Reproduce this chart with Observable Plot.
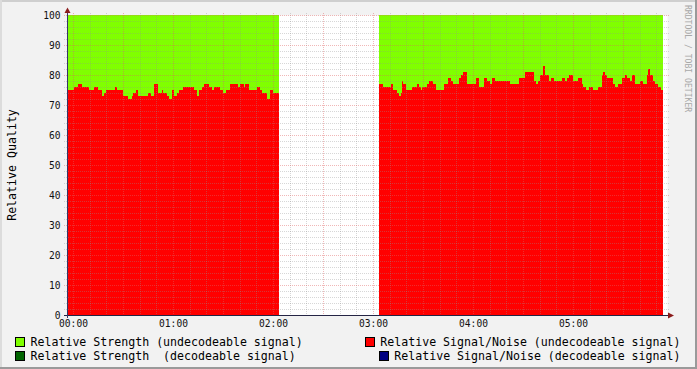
<!DOCTYPE html>
<html><head><meta charset="utf-8">
<script src="https://cdn.jsdelivr.net/npm/d3@7"></script>
<script src="https://cdn.jsdelivr.net/npm/@observablehq/plot@0.6"></script>
<style>
html,body{margin:0;padding:0;background:#f2f2f2}
#wrap{position:relative;width:697px;height:369px;background:#f2f2f2;overflow:hidden;font-family:"DejaVu Sans Mono",monospace;color:#000}
#wrap svg{position:absolute;left:0;top:0}
.lg{position:absolute;white-space:pre;font-size:11.6px;line-height:14px;height:14px}
.bx{position:absolute;width:8px;height:8px;border:1px solid #000}
.edge{position:absolute}
</style></head><body><div id="wrap"></div>
<script>
// minutes after 00:00 at which each step starts
const seg1Times = [-3.6,-2.8,0.6,3.2,5.2,9.8,12.8,15.2,17.2,18.6,19.8,25.2,26.6,30.2,33.2,35.2,36.2,37.6,39.2,45.2,46.6,48.6,50.8,53.2,54.2,56.2,57.6,59.6,60.6,62.2,63.6,66.2,72.6,74.2,75.6,77.2,78.6,81.8,83.2,84.8,88.2,90.2,91.8,94.2,99.2,100.4,102.4,103.4,105.4,110.4,112.4,113.4,116.4,118.4,119.8];
const seg1Values = [76,75,76,77,76,75,76,75,73,74,75,76,75,73,72,73,74,75,73,74,73,77,74,75,74,73,72,75,73,74,75,76,75,73,75,76,77,76,75,76,75,74,75,77,76,77,76,77,75,76,75,74,72,75,74];
const seg1End = 123.6;
const seg2Times = [183.6,186.2,190.6,192.2,194.6,195.6,196.6,197.6,198.2,199.6,203.6,206.2,207.6,208.6,209.6,212.6,213.6,216.2,217.6,222.6,225,226.6,228,231.6,233,234.2,236.6,241.8,243.8,246.4,248.4,250.4,251.4,253.4,262.4,267.4,271.4,276.4,277.8,279,280.4,281.8,283.4,285.4,286.8,288.4,293.4,295.4,296.4,297.8,300.2,303.2,305.2,306.2,307.8,309.8,312.2,315.2,317.2,318.2,319.2,320.2,324.2,325.2,327.2,329.2,331.2,332.6,334.2,335.2,337.2,340.2,342.2,344.6,345.2,346.2,347.8,349.2,351.2,352.6];
const seg2Values = [77,76,77,75,74,73,74,78,77,75,76,77,76,75,76,77,78,77,75,77,79,78,77,79,80,81,77,79,76,79,78,77,79,78,77,79,81,78,77,78,80,83,80,78,79,78,79,78,79,80,78,79,77,76,75,76,75,76,80,81,80,79,77,76,77,79,80,79,78,80,77,78,77,80,82,80,78,77,76,75];
const seg2End = 354;
const timeDomain = [-3.6, 356.4];
const hourTicks = [0,60,120,180,240,300];
const hourLabels = ["00:00","01:00","02:00","03:00","04:00","05:00"];
const yTicks = [0,10,20,30,40,50,60,70,80,90,100];
const yLabel = "Relative Quality";
const sideText = "RRDTOOL / TOBI OETIKER";
const legendLabels = ["Relative Strength (undecodeable signal)","Relative Signal/Noise (undecodeable signal)","Relative Strength  (decodeable signal)","Relative Signal/Noise (decodeable signal)"];
const legendColors = ["#80ff00","#ff0000","#006400","#000080"];
const strengthColor = "#80ff00";
const snColor = "#ff0000";

function rows(times, values, end, seg) {
  const r = times.map((t, i) => ({t, v: values[i], seg}));
  r.push({t: end, v: values[values.length - 1], seg});
  return r;
}
const data = rows(seg1Times, seg1Values, seg1End, 1).concat(rows(seg2Times, seg2Values, seg2End, 2));

const minorY = d3.range(0, 101, 2).filter(d => d % 10 !== 0);
const majorY = yTicks;
const minorX = d3.range(0, 357, 10).filter(d => d % 30 !== 0);
const majorX = d3.range(0, 357, 30);

const plot = Plot.plot({
  width: 697, height: 369,
  marginLeft: 67, marginRight: 30, marginTop: 15, marginBottom: 54,
  style: {background: "transparent", fontFamily: "DejaVu Sans Mono", fontSize: "9.6px", color: "#000", overflow: "visible"},
  x: {domain: timeDomain, axis: null},
  y: {domain: [0, 100], axis: null},
  marks: [
    Plot.frame({fill: "#fff", stroke: null}),
    Plot.areaY(data, {x: "t", y1: 100, y2: "v", z: "seg", curve: "step-after", fill: strengthColor, shapeRendering: "crispEdges"}),
    Plot.areaY(data, {x: "t", y1: 0, y2: "v", z: "seg", curve: "step-after", fill: snColor, shapeRendering: "crispEdges"}),
    Plot.ruleY(minorY, {stroke: "#909090", strokeOpacity: 0.36, strokeDasharray: "1,1", insetLeft: -3, insetRight: -2, shapeRendering: "crispEdges"}),
    Plot.ruleX(minorX, {stroke: "#909090", strokeOpacity: 0.36, strokeDasharray: "1,1", insetTop: -2, insetBottom: -2, shapeRendering: "crispEdges"}),
    Plot.ruleY(majorY, {stroke: "#e06060", strokeOpacity: 0.45, strokeDasharray: "1,1", insetLeft: -3, insetRight: -2, shapeRendering: "crispEdges"}),
    Plot.ruleX(majorX, {stroke: "#e06060", strokeOpacity: 0.45, strokeDasharray: "1,1", insetTop: -2, insetBottom: -2, shapeRendering: "crispEdges"}),
    Plot.axisY({ticks: yTicks, tickSize: 0, tickPadding: 7, label: null, fill: "#111"}),
    Plot.axisX({ticks: hourTicks, tickFormat: d => hourLabels[hourTicks.indexOf(d)], tickSize: 0, tickPadding: 5, label: null, fill: "#111"})
  ]
});

const wrap = document.getElementById("wrap");
wrap.appendChild(plot);

const X = plot.scale("x"), Y = plot.scale("y");
const svg = d3.select(plot);
const x0 = X.apply(timeDomain[0]), x1 = X.apply(timeDomain[1]);
const y0 = Y.apply(0), y1 = Y.apply(100);
svg.append("line").attr("x1", x0 - 3).attr("x2", x1 + 2).attr("y1", y0 + 0.5).attr("y2", y0 + 0.5).attr("stroke", "#252545").attr("stroke-width", 1);
svg.append("line").attr("x1", x0 + 0.5).attr("x2", x0 + 0.5).attr("y1", y0 + 3).attr("y2", y1 - 2).attr("stroke", "#353565").attr("stroke-width", 1);
svg.append("path").attr("d", `M${x0 - 2.5},${y1 - 2}L${x0 + 3.5},${y1 - 2}L${x0 + 0.5},${y1 - 7.5}Z`).attr("fill", "#8b1c1c");
svg.append("path").attr("d", `M${x1 + 1},${y0 - 2.5}L${x1 + 1},${y0 + 3.5}L${x1 + 7},${y0 + 0.5}Z`).attr("fill", "#8b1c1c");
svg.append("text").attr("transform", `translate(15.5,${(y0 + y1) / 2}) rotate(-90)`).attr("text-anchor", "middle")
  .attr("font-family", "DejaVu Sans Mono").attr("font-size", "11.6px").attr("fill", "#000").text(yLabel);
svg.append("text").attr("transform", `translate(685,5) rotate(90)`).attr("text-anchor", "start").attr("dy", "-0.05em")
  .attr("font-family", "DejaVu Sans Mono").attr("font-size", "8.1px").attr("fill", "#a8a8a8").text(sideText);

// legend
const pos = [
  {bx: 15, tx: 30.5, cy: 341.5},
  {bx: 365, tx: 380.3, cy: 341.5},
  {bx: 15, tx: 30.5, cy: 355.5},
  {bx: 379, tx: 394.3, cy: 355.5}
];
legendLabels.forEach((lab, i) => {
  const p = pos[i];
  const b = document.createElement("div");
  b.className = "bx";
  b.style.left = p.bx + "px"; b.style.top = (p.cy - 5) + "px"; b.style.background = legendColors[i];
  wrap.appendChild(b);
  const t = document.createElement("div");
  t.className = "lg";
  t.style.left = p.tx + "px"; t.style.top = (p.cy - 7) + "px";
  t.textContent = lab;
  wrap.appendChild(t);
});
// frame edges
[["left:0;top:0;width:697px;height:2px;background:#cfcfcf"],
 ["left:0;top:0;width:2px;height:369px;background:#dcdcdc"],
 ["left:0;top:367px;width:697px;height:2px;background:#9a9a9a"],
 ["left:695px;top:0;width:2px;height:369px;background:#9a9a9a"]].forEach(([s]) => {
  const e = document.createElement("div"); e.className = "edge"; e.style.cssText += s; wrap.appendChild(e);
});
</script></body></html>
